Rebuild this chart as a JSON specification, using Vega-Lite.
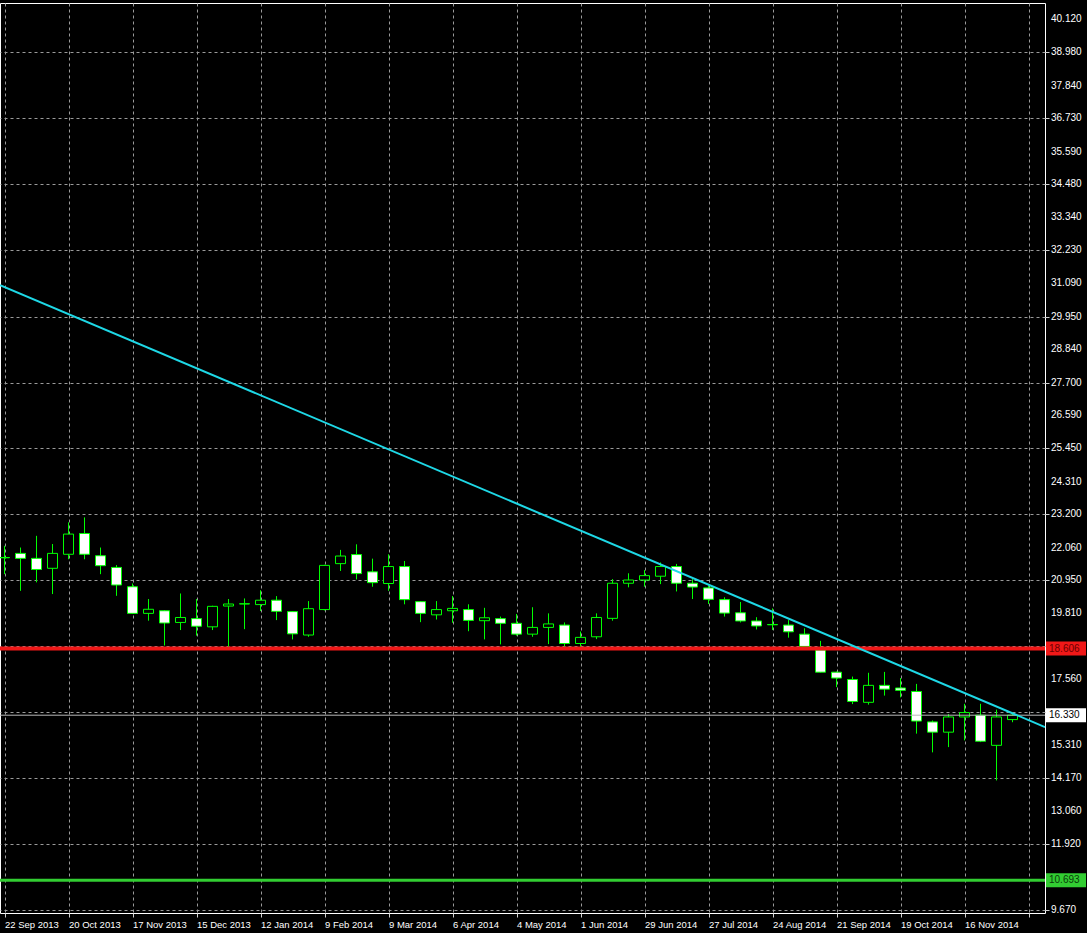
{
  "$schema": "https://vega.github.io/schema/vega-lite/v6.json",
  "width": 1045,
  "height": 910,
  "autosize": "none",
  "padding": {"left": 0, "top": 3, "right": 42, "bottom": 20},
  "background": "#000000",
  "config": {
    "view": {"stroke": "#ffffff", "strokeWidth": 1},
    "font": "Liberation Sans",
    "axis": {
      "labelColor": "#ffffff",
      "labelFont": "Liberation Sans",
      "labelFontSize": 10,
      "tickColor": "#d0d0d0",
      "tickSize": 4,
      "domain": false,
      "gridColor": "#9a9a9a",
      "gridDash": [3, 3],
      "gridWidth": 1,
      "labelOverlap": false,
      "labelFlush": false,
      "labelBound": false
    }
  },
  "datasets": {
    "candles": [
      {"date": "2013-09-22", "open": 21.72, "high": 22.12, "low": 21.15, "close": 21.71},
      {"date": "2013-09-29", "open": 21.86, "high": 22.06, "low": 20.58, "close": 21.69},
      {"date": "2013-10-06", "open": 21.69, "high": 22.46, "low": 20.87, "close": 21.31},
      {"date": "2013-10-13", "open": 21.35, "high": 22.18, "low": 20.47, "close": 21.86},
      {"date": "2013-10-20", "open": 21.83, "high": 22.92, "low": 21.66, "close": 22.52},
      {"date": "2013-10-27", "open": 22.54, "high": 23.09, "low": 21.66, "close": 21.83},
      {"date": "2013-11-03", "open": 21.78, "high": 22.06, "low": 21.15, "close": 21.44},
      {"date": "2013-11-10", "open": 21.38, "high": 21.46, "low": 20.41, "close": 20.78},
      {"date": "2013-11-17", "open": 20.72, "high": 20.83, "low": 19.79, "close": 19.81},
      {"date": "2013-11-24", "open": 19.81, "high": 20.30, "low": 19.56, "close": 19.95},
      {"date": "2013-12-01", "open": 19.90, "high": 19.92, "low": 18.71, "close": 19.48},
      {"date": "2013-12-08", "open": 19.50, "high": 20.49, "low": 19.24, "close": 19.67},
      {"date": "2013-12-15", "open": 19.63, "high": 20.30, "low": 19.05, "close": 19.37},
      {"date": "2013-12-22", "open": 19.35, "high": 20.07, "low": 19.24, "close": 20.05},
      {"date": "2013-12-29", "open": 20.06, "high": 20.30, "low": 18.62, "close": 20.13},
      {"date": "2014-01-05", "open": 20.13, "high": 20.32, "low": 19.27, "close": 20.14},
      {"date": "2014-01-12", "open": 20.11, "high": 20.60, "low": 19.89, "close": 20.26},
      {"date": "2014-01-19", "open": 20.26, "high": 20.40, "low": 19.58, "close": 19.88},
      {"date": "2014-01-26", "open": 19.87, "high": 19.89, "low": 18.92, "close": 19.11},
      {"date": "2014-02-02", "open": 19.07, "high": 20.23, "low": 19.01, "close": 19.97},
      {"date": "2014-02-09", "open": 19.94, "high": 21.47, "low": 19.91, "close": 21.45},
      {"date": "2014-02-16", "open": 21.51, "high": 21.98, "low": 21.26, "close": 21.77},
      {"date": "2014-02-23", "open": 21.82, "high": 22.17, "low": 20.97, "close": 21.17},
      {"date": "2014-03-02", "open": 21.23, "high": 21.68, "low": 20.72, "close": 20.86},
      {"date": "2014-03-09", "open": 20.83, "high": 21.83, "low": 20.58, "close": 21.41},
      {"date": "2014-03-16", "open": 21.41, "high": 21.60, "low": 20.12, "close": 20.28},
      {"date": "2014-03-23", "open": 20.21, "high": 20.23, "low": 19.51, "close": 19.81},
      {"date": "2014-03-30", "open": 19.76, "high": 20.23, "low": 19.60, "close": 19.94},
      {"date": "2014-04-06", "open": 19.90, "high": 20.40, "low": 19.49, "close": 19.98},
      {"date": "2014-04-13", "open": 19.94, "high": 20.12, "low": 19.20, "close": 19.57},
      {"date": "2014-04-20", "open": 19.56, "high": 20.00, "low": 18.92, "close": 19.66},
      {"date": "2014-04-27", "open": 19.63, "high": 19.70, "low": 18.75, "close": 19.47},
      {"date": "2014-05-04", "open": 19.47, "high": 19.79, "low": 19.05, "close": 19.10},
      {"date": "2014-05-11", "open": 19.10, "high": 20.02, "low": 19.01, "close": 19.33},
      {"date": "2014-05-18", "open": 19.33, "high": 19.81, "low": 18.76, "close": 19.45},
      {"date": "2014-05-25", "open": 19.41, "high": 19.50, "low": 18.67, "close": 18.78},
      {"date": "2014-06-01", "open": 18.78, "high": 19.19, "low": 18.67, "close": 18.99},
      {"date": "2014-06-08", "open": 19.01, "high": 19.81, "low": 18.93, "close": 19.67},
      {"date": "2014-06-15", "open": 19.64, "high": 20.98, "low": 19.56, "close": 20.84},
      {"date": "2014-06-22", "open": 20.84, "high": 21.18, "low": 20.70, "close": 20.95},
      {"date": "2014-06-29", "open": 20.95, "high": 21.29, "low": 20.72, "close": 21.10},
      {"date": "2014-07-06", "open": 21.08, "high": 21.55, "low": 20.81, "close": 21.41},
      {"date": "2014-07-13", "open": 21.41, "high": 21.50, "low": 20.56, "close": 20.84},
      {"date": "2014-07-20", "open": 20.84, "high": 20.98, "low": 20.30, "close": 20.71},
      {"date": "2014-07-27", "open": 20.68, "high": 20.76, "low": 20.13, "close": 20.29},
      {"date": "2014-08-03", "open": 20.28, "high": 20.36, "low": 19.70, "close": 19.82},
      {"date": "2014-08-10", "open": 19.83, "high": 20.20, "low": 19.50, "close": 19.55},
      {"date": "2014-08-17", "open": 19.55, "high": 19.68, "low": 19.26, "close": 19.38},
      {"date": "2014-08-24", "open": 19.43, "high": 19.98, "low": 19.24, "close": 19.42},
      {"date": "2014-08-31", "open": 19.41, "high": 19.58, "low": 18.98, "close": 19.18},
      {"date": "2014-09-07", "open": 19.10, "high": 19.30, "low": 18.61, "close": 18.68},
      {"date": "2014-09-14", "open": 18.56, "high": 18.87, "low": 17.79, "close": 17.80},
      {"date": "2014-09-21", "open": 17.80, "high": 17.82, "low": 17.29, "close": 17.60},
      {"date": "2014-09-28", "open": 17.55, "high": 17.65, "low": 16.71, "close": 16.80},
      {"date": "2014-10-05", "open": 16.77, "high": 17.78, "low": 16.69, "close": 17.35},
      {"date": "2014-10-12", "open": 17.35, "high": 17.81, "low": 17.00, "close": 17.22},
      {"date": "2014-10-19", "open": 17.26, "high": 17.60, "low": 16.94, "close": 17.18},
      {"date": "2014-10-26", "open": 17.14, "high": 17.40, "low": 15.70, "close": 16.13},
      {"date": "2014-11-02", "open": 16.10, "high": 16.15, "low": 15.06, "close": 15.75},
      {"date": "2014-11-09", "open": 15.75, "high": 16.37, "low": 15.24, "close": 16.27},
      {"date": "2014-11-16", "open": 16.27, "high": 16.72, "low": 15.47, "close": 16.42},
      {"date": "2014-11-23", "open": 16.33, "high": 16.72, "low": 15.41, "close": 15.44},
      {"date": "2014-11-30", "open": 15.30, "high": 16.52, "low": 14.10, "close": 16.27},
      {"date": "2014-12-07", "open": 16.18, "high": 16.43, "low": 16.09, "close": 16.33}
    ],
    "levels": [
      {"name": "resistance", "price": 18.606, "label": "18.606"},
      {"name": "bid", "price": 16.33, "label": "16.330"},
      {"name": "support", "price": 10.693, "label": "10.693"}
    ],
    "trend": [
      {"date": "2013-09-20T00:45:00Z", "price": 31.03},
      {"date": "2014-12-21T05:15:00Z", "price": 15.925}
    ],
    "scaleLabels": [
      {"price": 9.67}, {"price": 11.92}, {"price": 13.06}, {"price": 14.17}, {"price": 15.31},
      {"price": 17.56}, {"price": 19.81}, {"price": 20.95}, {"price": 22.06}, {"price": 23.2},
      {"price": 24.31}, {"price": 25.45}, {"price": 26.59}, {"price": 27.7}, {"price": 28.84},
      {"price": 29.95}, {"price": 31.09}, {"price": 32.23}, {"price": 33.34}, {"price": 34.48},
      {"price": 35.59}, {"price": 36.73}, {"price": 37.84}, {"price": 38.98}, {"price": 40.12}
    ]
  },
  "layer": [
    {
      "data": {"name": "candles"},
      "mark": {"type": "rule", "color": "#00ff00", "strokeWidth": 1},
      "encoding": {
        "x": {
          "field": "date",
          "type": "temporal",
          "scale": {
            "type": "utc",
            "padding": 0,
            "nice": false,
            "domain": [
              {"year": 2013, "month": 9, "date": 20, "hours": 0, "minutes": 45, "utc": true},
              {"year": 2014, "month": 12, "date": 21, "hours": 5, "minutes": 15, "utc": true}
            ]
          },
          "axis": {
            "title": null,
            "format": "%-d %b %Y",
            "labelAlign": "left",
            "labelBaseline": "top",
            "labelPadding": 2,
            "labelDx": -1,
            "labelFontSize": 9.5,
            "labelOverlap": false,
            "labelFlush": false,
            "labelBound": false,
            "labelExpr": "(round((datum.value - 1379808000000) / 604800000) % 4 == 0 && round((datum.value - 1379808000000) / 604800000) < 64) ? datum.label : ''",
            "values": [
              {"year": 2013, "month": 9, "date": 22, "utc": true},
              {"year": 2013, "month": 10, "date": 6, "utc": true},
              {"year": 2013, "month": 10, "date": 20, "utc": true},
              {"year": 2013, "month": 11, "date": 3, "utc": true},
              {"year": 2013, "month": 11, "date": 17, "utc": true},
              {"year": 2013, "month": 12, "date": 1, "utc": true},
              {"year": 2013, "month": 12, "date": 15, "utc": true},
              {"year": 2013, "month": 12, "date": 29, "utc": true},
              {"year": 2014, "month": 1, "date": 12, "utc": true},
              {"year": 2014, "month": 1, "date": 26, "utc": true},
              {"year": 2014, "month": 2, "date": 9, "utc": true},
              {"year": 2014, "month": 2, "date": 23, "utc": true},
              {"year": 2014, "month": 3, "date": 9, "utc": true},
              {"year": 2014, "month": 3, "date": 23, "utc": true},
              {"year": 2014, "month": 4, "date": 6, "utc": true},
              {"year": 2014, "month": 4, "date": 20, "utc": true},
              {"year": 2014, "month": 5, "date": 4, "utc": true},
              {"year": 2014, "month": 5, "date": 18, "utc": true},
              {"year": 2014, "month": 6, "date": 1, "utc": true},
              {"year": 2014, "month": 6, "date": 15, "utc": true},
              {"year": 2014, "month": 6, "date": 29, "utc": true},
              {"year": 2014, "month": 7, "date": 13, "utc": true},
              {"year": 2014, "month": 7, "date": 27, "utc": true},
              {"year": 2014, "month": 8, "date": 10, "utc": true},
              {"year": 2014, "month": 8, "date": 24, "utc": true},
              {"year": 2014, "month": 9, "date": 7, "utc": true},
              {"year": 2014, "month": 9, "date": 21, "utc": true},
              {"year": 2014, "month": 10, "date": 5, "utc": true},
              {"year": 2014, "month": 10, "date": 19, "utc": true},
              {"year": 2014, "month": 11, "date": 2, "utc": true},
              {"year": 2014, "month": 11, "date": 16, "utc": true},
              {"year": 2014, "month": 11, "date": 30, "utc": true},
              {"year": 2014, "month": 12, "date": 14, "utc": true}
            ]
          }
        },
        "y": {
          "field": "low",
          "type": "quantitative",
          "scale": {"domain": [9.57, 40.67], "nice": false, "zero": false, "padding": 0},
          "axis": {
            "title": null,
            "orient": "right",
            "labels": false,
            "values": [9.67, 10.8, 11.92, 13.06, 14.17, 15.31, 16.44, 17.56, 18.69, 19.81, 20.95, 22.06, 23.2, 24.31, 25.45, 26.59, 27.7, 28.84, 29.95, 31.09, 32.23, 33.34, 34.48, 35.59, 36.73, 37.84, 38.98, 40.12]
          }
        },
        "y2": {"field": "high"}
      }
    },
    {
      "data": {"name": "candles"},
      "mark": {"type": "bar", "width": 10, "stroke": "#00ff00", "strokeWidth": 1},
      "encoding": {
        "x": {"field": "date", "type": "temporal", "axis": {"title": null}},
        "y": {"field": "open", "type": "quantitative", "axis": {"title": null}},
        "y2": {"field": "close"},
        "fill": {
          "condition": {"test": "datum.close < datum.open", "value": "#ffffff"},
          "value": "#000000"
        }
      }
    },
    {
      "data": {"name": "levels"},
      "transform": [{"filter": "datum.name == 'bid'"}],
      "mark": {"type": "rule", "color": "#b8b8b8", "strokeWidth": 1},
      "encoding": {"y": {"field": "price", "type": "quantitative", "axis": {"title": null}}}
    },
    {
      "data": {"name": "levels"},
      "transform": [{"filter": "datum.name == 'resistance'"}],
      "mark": {"type": "rule", "color": "#f01818", "strokeWidth": 4},
      "encoding": {"y": {"field": "price", "type": "quantitative", "axis": {"title": null}}}
    },
    {
      "data": {"name": "levels"},
      "transform": [{"filter": "datum.name == 'support'"}],
      "mark": {"type": "rule", "color": "#32cd32", "strokeWidth": 3},
      "encoding": {"y": {"field": "price", "type": "quantitative", "axis": {"title": null}}}
    },
    {
      "data": {"name": "trend"},
      "mark": {"type": "line", "color": "#1ed8e6", "strokeWidth": 2},
      "encoding": {
        "x": {"field": "date", "type": "temporal", "axis": {"title": null}},
        "y": {"field": "price", "type": "quantitative", "axis": {"title": null}}
      }
    },
    {
      "data": {"name": "scaleLabels"},
      "mark": {"type": "text", "align": "left", "baseline": "middle", "font": "Liberation Sans", "fontSize": 10, "color": "#ffffff"},
      "encoding": {
        "x": {"datum": {"year": 2014, "month": 12, "date": 23, "hours": 20, "minutes": 15, "utc": true}, "type": "temporal", "axis": {"title": null}},
        "y": {"field": "price", "type": "quantitative", "axis": {"title": null}},
        "text": {"field": "price", "type": "quantitative", "format": ".3f"}
      }
    },
    {
      "data": {"name": "levels"},
      "mark": {"type": "rect", "height": 14},
      "encoding": {
        "x": {"datum": {"year": 2014, "month": 12, "date": 21, "hours": 15, "minutes": 45, "utc": true}, "type": "temporal", "axis": {"title": null}},
        "x2": {"datum": {"year": 2015, "month": 1, "date": 8, "hours": 3, "minutes": 45, "utc": true}},
        "y": {"field": "price", "type": "quantitative", "axis": {"title": null}},
        "fill": {
          "condition": [
            {"test": "datum.name == 'resistance'", "value": "#f01818"},
            {"test": "datum.name == 'support'", "value": "#32cd32"}
          ],
          "value": "#ffffff"
        }
      }
    },
    {
      "data": {"name": "levels"},
      "mark": {"type": "text", "align": "left", "baseline": "middle", "font": "Liberation Sans", "fontSize": 10},
      "encoding": {
        "x": {"datum": {"year": 2014, "month": 12, "date": 22, "hours": 23, "minutes": 15, "utc": true}, "type": "temporal", "axis": {"title": null}},
        "y": {"field": "price", "type": "quantitative", "axis": {"title": null}},
        "text": {"field": "label"},
        "color": {
          "condition": [
            {"test": "datum.name == 'resistance'", "value": "#6a0000"},
            {"test": "datum.name == 'support'", "value": "#0a3a0a"}
          ],
          "value": "#000000"
        }
      }
    }
  ]
}
